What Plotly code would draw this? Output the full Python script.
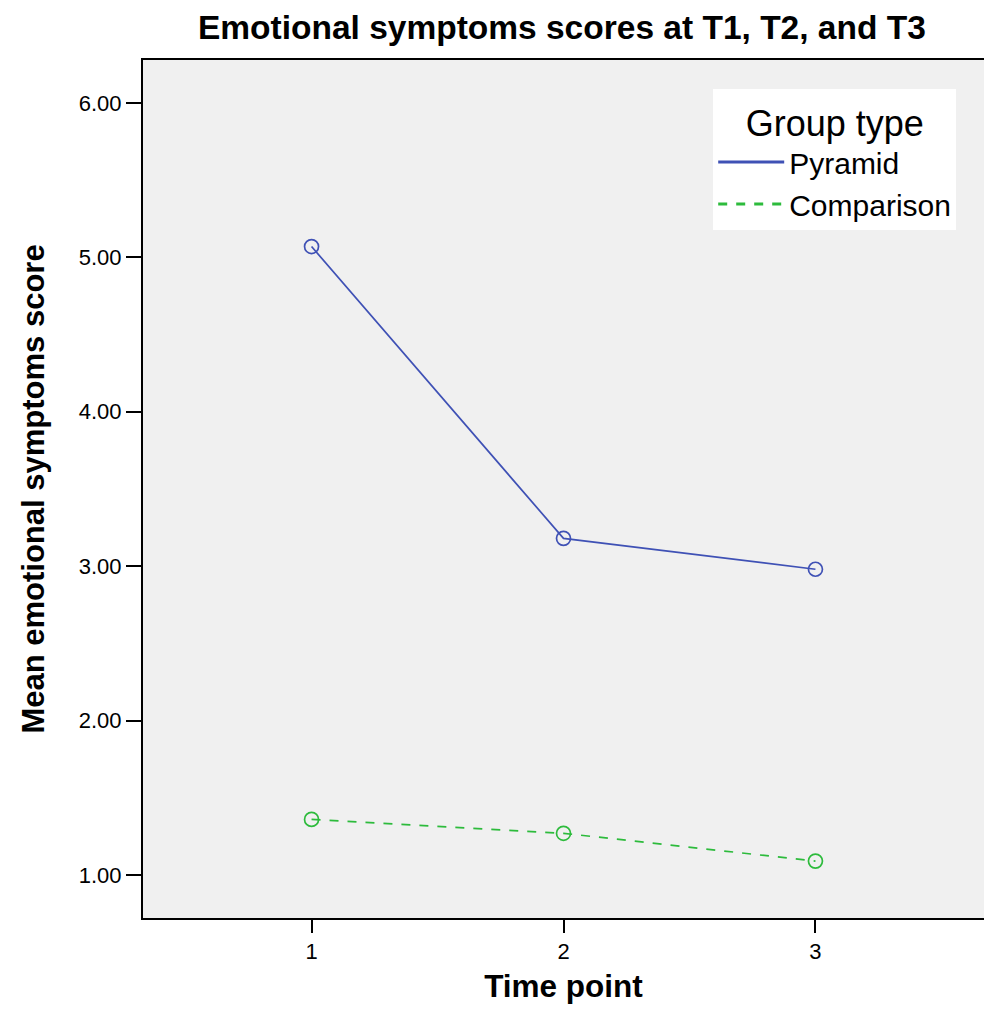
import plotly.graph_objects as go

time_points = [1, 2, 3]
pyramid = [5.07, 3.18, 2.98]
comparison = [1.36, 1.27, 1.09]
y_ticks = [1, 2, 3, 4, 5, 6]
y_tick_labels = ["1.00", "2.00", "3.00", "4.00", "5.00", "6.00"]

blue = "#3F51B5"
green = "#2DBB3C"

fig = go.Figure()
fig.add_trace(go.Scatter(
    x=time_points, y=pyramid, name="Pyramid", mode="lines+markers", showlegend=False,
    line=dict(color=blue, width=1.7),
    marker=dict(symbol="circle-open", size=14, color=blue, line=dict(width=1.7)),
))
fig.add_trace(go.Scatter(
    x=time_points, y=comparison, name="Comparison", mode="lines+markers", showlegend=False,
    line=dict(color=green, width=1.7, dash="dash"),
    marker=dict(symbol="circle-open", size=14, color=green, line=dict(width=1.7)),
))
# legend entries (line only, as in the reference legend)
fig.add_trace(go.Scatter(x=[None], y=[None], name="Pyramid", mode="lines",
                         line=dict(color=blue, width=3)))
fig.add_trace(go.Scatter(x=[None], y=[None], name="Comparison", mode="lines",
                         line=dict(color=green, width=3, dash="dash")))

font_family = "Liberation Sans, Arial, sans-serif"
fig.update_layout(
    width=984, height=1009,
    margin=dict(l=143, r=0, t=60, b=91),
    paper_bgcolor="white", plot_bgcolor="#F0F0F0",
    font=dict(family=font_family, color="black"),
    title=dict(text="<b>Emotional symptoms scores at T1, T2, and T3</b>",
               x=0.571, xanchor="center", y=0.973, yanchor="middle",
               font=dict(size=33.5, family=font_family, color="black")),
    showlegend=True,
    legend=dict(
        title=dict(text="Group type", side="top center", font=dict(size=36)),
        font=dict(size=30),
        bgcolor="white", borderwidth=0,
        x=0.678, xanchor="left", y=0.966, yanchor="top",
        itemwidth=66,
    ),
)
fig.update_xaxes(
    range=[0.331, 3.669], tickvals=time_points, ticktext=[str(t) for t in time_points],
    showgrid=False, zeroline=False, showline=True, linecolor="black", linewidth=2,
    mirror=True, ticks="outside", ticklen=13, tickwidth=2, tickcolor="black",
    tickfont=dict(size=22), title=dict(text="<b>Time point</b>", font=dict(size=31.5), standoff=12),
)
fig.update_yaxes(
    range=[0.7215, 6.278], tickvals=y_ticks, ticktext=y_tick_labels,
    showgrid=False, zeroline=False, showline=True, linecolor="black", linewidth=2,
    ticks="outside", ticklen=15, tickwidth=2, tickcolor="black",
    tickfont=dict(size=22),
    title=dict(text="<b>Mean emotional symptoms score</b>", font=dict(size=31), standoff=25),
)

fig.write_html("out.html", config={"displayModeBar": False},
               post_script="document.body.style.margin='0';document.body.style.overflow='hidden';")
